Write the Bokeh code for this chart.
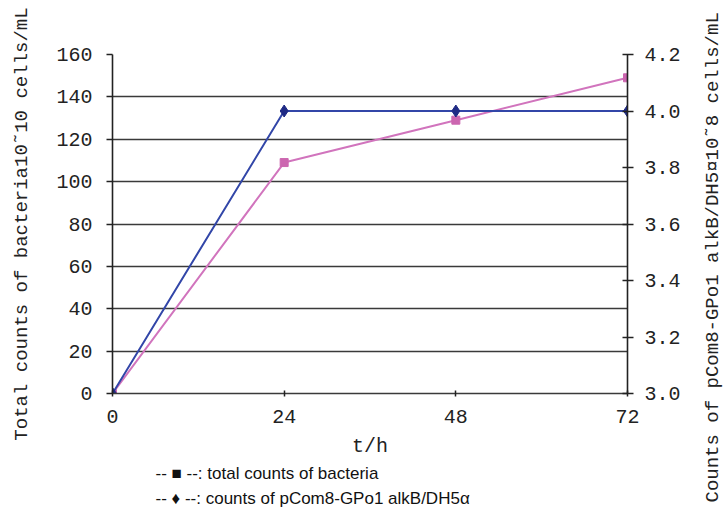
import math
from bokeh.plotting import figure
from bokeh.layouts import row
from bokeh.models import (Range1d, LinearAxis, FixedTicker, PrintfTickFormatter, Title)
from bokeh.embed import file_html
from bokeh.resources import INLINE

# ---- data ----
hours = [0, 24, 48, 72]
total_counts = [0, 109, 129, 149]          # left axis, 10^10 cells/mL
pcom8_counts = [3.0, 4.0, 4.0, 4.0]        # right axis, 10^8 cells/mL
x_ticks = [0, 24, 48, 72]
left_ticks = [0, 20, 40, 60, 80, 100, 120, 140, 160]
right_ticks = [3.0, 3.2, 3.4, 3.6, 3.8, 4.0, 4.2]
left_label = "Total counts of bacteria10\u02dc10 cells/mL"
right_label = "Counts of pCom8-GPo1 alkB/DH5\u00a410\u02dc8 cells/mL"
x_label = "t/h"
legend_lines = ["-- \u25a0 --: total counts of bacteria",
                "-- \u2666 --: counts of pCom8-GPo1 alkB/DH5\u03b1"]

MONO = "Liberation Mono"
SANS = "Liberation Sans"

p = figure(width=695, height=511, x_range=Range1d(0, 72), y_range=Range1d(0, 160),
           output_backend="svg", toolbar_location=None,
           min_border_left=112, min_border_right=68, min_border_top=54, min_border_bottom=115)
p.outline_line_color = None
p.background_fill_color = "white"
p.border_fill_color = "white"

# grid
p.xgrid.visible = False
p.ygrid.ticker = FixedTicker(ticks=left_ticks)
p.ygrid.grid_line_color = "#3a3a3a"
p.ygrid.grid_line_width = 1.6

# x axis
xa = p.xaxis[0]
xa.ticker = FixedTicker(ticks=x_ticks)
xa.axis_label = x_label
xa.axis_label_text_font = MONO
xa.axis_label_text_font_style = "normal"
xa.axis_label_text_font_size = "20px"
xa.axis_label_text_color = "#222222"
xa.axis_label_standoff = 9
xa.major_label_text_font = MONO
xa.major_label_text_font_size = "20px"
xa.major_label_text_color = "#222222"
xa.major_label_standoff = 13
xa.major_tick_in = 3
xa.major_tick_out = 3
xa.minor_tick_line_color = None
xa.axis_line_color = "#3a3a3a"
xa.axis_line_width = 1.6
xa.major_tick_line_color = "#222222"
xa.major_tick_line_width = 1.5

# left axis
ya = p.yaxis[0]
ya.ticker = FixedTicker(ticks=left_ticks)
ya.axis_label = left_label
ya.axis_label_text_font = MONO
ya.axis_label_text_font_style = "normal"
ya.axis_label_text_font_size = "19px"
ya.axis_label_text_color = "#222222"
ya.axis_label_standoff = 20
ya.major_label_text_font = MONO
ya.major_label_text_font_size = "20px"
ya.major_label_text_color = "#222222"
ya.major_label_standoff = 14
ya.major_tick_in = 0
ya.major_tick_out = 6
ya.minor_tick_line_color = None
ya.axis_line_color = "#222222"
ya.axis_line_width = 1.6
ya.major_tick_line_color = "#222222"
ya.major_tick_line_width = 1.5

# right axis
p.extra_y_ranges = {"r": Range1d(3.0, 4.2)}
ra = LinearAxis(y_range_name="r", ticker=FixedTicker(ticks=right_ticks),
                formatter=PrintfTickFormatter(format="%.1f"))
ra.major_label_text_font = MONO
ra.major_label_text_font_size = "20px"
ra.major_label_text_color = "#222222"
ra.major_label_standoff = 11
ra.major_tick_in = 5
ra.major_tick_out = 6
ra.minor_tick_line_color = None
ra.axis_line_color = "#222222"
ra.axis_line_width = 1.6
ra.major_tick_line_color = "#222222"
ra.major_tick_line_width = 1.5
p.add_layout(ra, "right")

# series
pink = "#d174bd"
blue = "#3246a8"
p.line(hours, total_counts, line_color=pink, line_width=2)
p.scatter(hours, total_counts, marker="square", size=8, fill_color="#cc66b0", line_color="#cc66b0")
p.line(hours, pcom8_counts, y_range_name="r", line_color=blue, line_width=2)
p.scatter(hours, pcom8_counts, y_range_name="r", marker="diamond", size=12,
          fill_color="#1f2a85", line_color="#1f2a85")

# legend text below the chart
for i, line in enumerate(legend_lines):
    t = Title(text=line, align="left", offset=43, standoff=2 if i == 0 else 7,
              text_font=SANS, text_font_size="17px", text_font_style="normal",
              text_color="#111111")
    p.add_layout(t, "below")

# right-hand axis title (reads bottom-to-top), in a narrow companion panel
side = figure(width=32, height=511, output_backend="svg", toolbar_location=None,
              x_axis_location=None, y_axis_location=None,
              min_border_left=28, min_border_right=0,
              min_border_top=0, min_border_bottom=0)
side.outline_line_color = None
side.grid.visible = False
side.background_fill_color = "white"
side.border_fill_color = "white"
side.add_layout(Title(text=right_label, align="left", offset=-109, standoff=0,
                      text_font=MONO, text_font_size="19px", text_font_style="normal",
                      text_color="#222222"), "left")

layout = row(p, side, spacing=0)
open("out.html", "w").write(file_html(layout, INLINE))
